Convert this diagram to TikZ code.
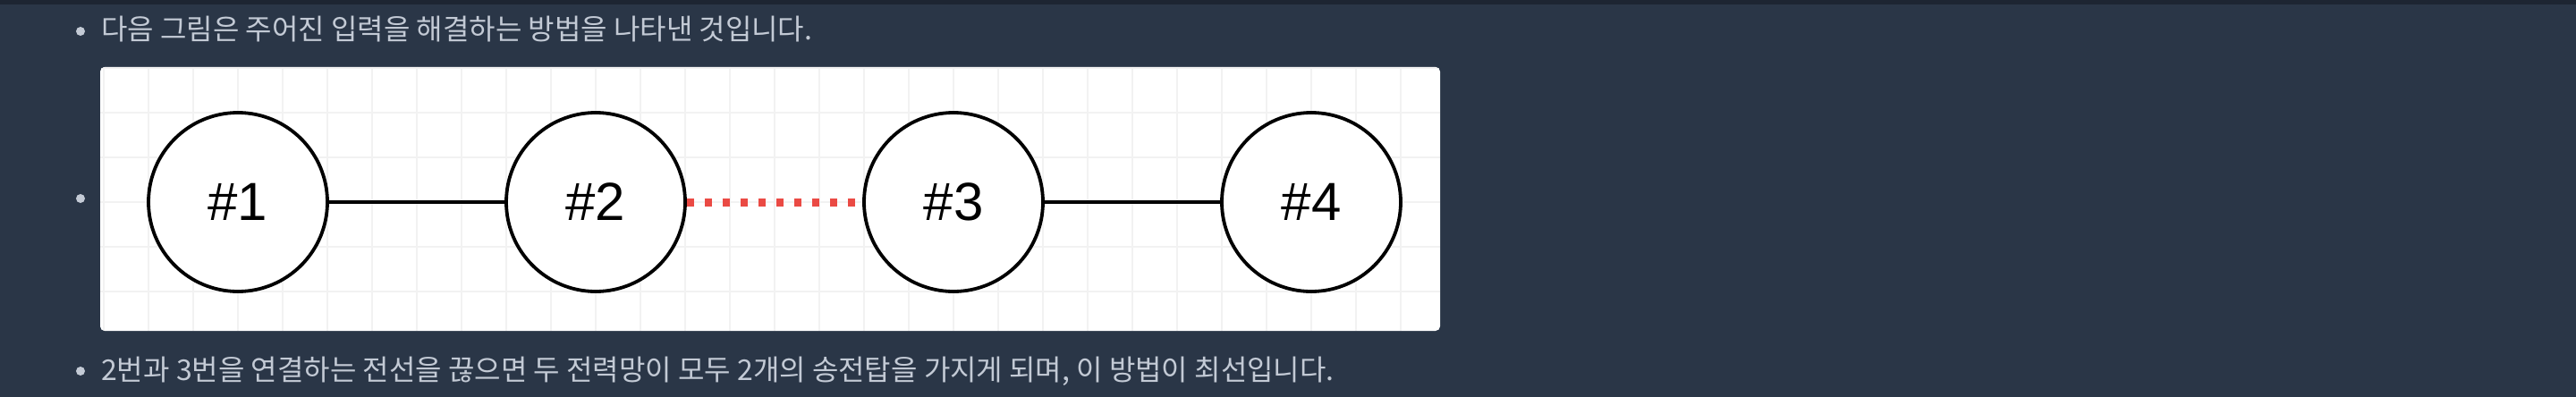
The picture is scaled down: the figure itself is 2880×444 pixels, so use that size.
\documentclass[tikz,border=0pt]{standalone}
\usepackage{fontspec}
\setmainfont{Liberation Sans}
\newfontfamily\krfont{Noto Sans CJK KR}
\usepackage{tikz}
\usetikzlibrary{positioning,calc}

\definecolor{pagebg}{HTML}{2A3647}
\definecolor{topbar}{HTML}{1D2532}
\definecolor{bodytext}{HTML}{C3CAD5}
\definecolor{gridline}{HTML}{F2F2F2}
\definecolor{cutred}{HTML}{EA4A44}

\tikzset{
    tower/.style={circle, draw=black, line width=3.8pt, fill=white,
        minimum size=200pt, inner sep=0pt, font=\fontsize{60}{60}\selectfont},
    wire/.style={black, line width=3.2pt},
    cutwire/.style={cutred, line width=9pt, dash pattern=on 8pt off 12pt},
    remark/.style={anchor=base west, text=bodytext, inner sep=0pt,
        font=\krfont\fontsize{32}{32}\selectfont},
    dot/.style={circle, fill=bodytext, minimum size=10pt, inner sep=0pt}
}

\begin{document}
\begin{tikzpicture}[x=1pt,y=-1pt]
        % page
        \fill[pagebg] (0,0) rectangle (2880,444);
        \fill[topbar] (0,0) rectangle (2880,5);
        \useasboundingbox (0,0) rectangle (2880,444);

        % bullets and text
        \node[dot] (b1) at (90,35) {};
        \node[remark] (t1) at (113,45) {다음 그림은 주어진 입력을 해결하는 방법을 나타낸 것입니다.};
        \node[dot] (b2) at (90,222) {};
        \node[dot] (b3) at (90,415) {};
        \node[remark] (t3) at (113,425) {2번과 3번을 연결하는 전선을 끊으면 두 전력망이 모두 2개의 송전탑을 가지게 되며, 이 방법이 최선입니다.};

        % card with grid
        \fill[white, rounded corners=5pt] (112,75) rectangle (1610,370);
        \begin{scope}
            \clip[rounded corners=5pt] (112,75) rectangle (1610,370);
            \foreach \gx in {116,166,...,1616}
                \draw[gridline, line width=1.2pt] (\gx,75) -- (\gx,370);
            \foreach \gy in {76,126,...,376}
                \draw[gridline, line width=1.2pt] (112,\gy) -- (1610,\gy);
        \end{scope}

        % towers
        \node[tower] (n1) at (266,226) {\#1};
        \node[tower] (n2) at (666,226) {\#2};
        \node[tower] (n3) at (1066,226) {\#3};
        \node[tower] (n4) at (1466,226) {\#4};

        \draw[wire] (n1) -- (n2);
        \draw[cutwire] (n2) -- (n3);
        \draw[wire] (n3) -- (n4);

    \end{tikzpicture}
\end{document}
